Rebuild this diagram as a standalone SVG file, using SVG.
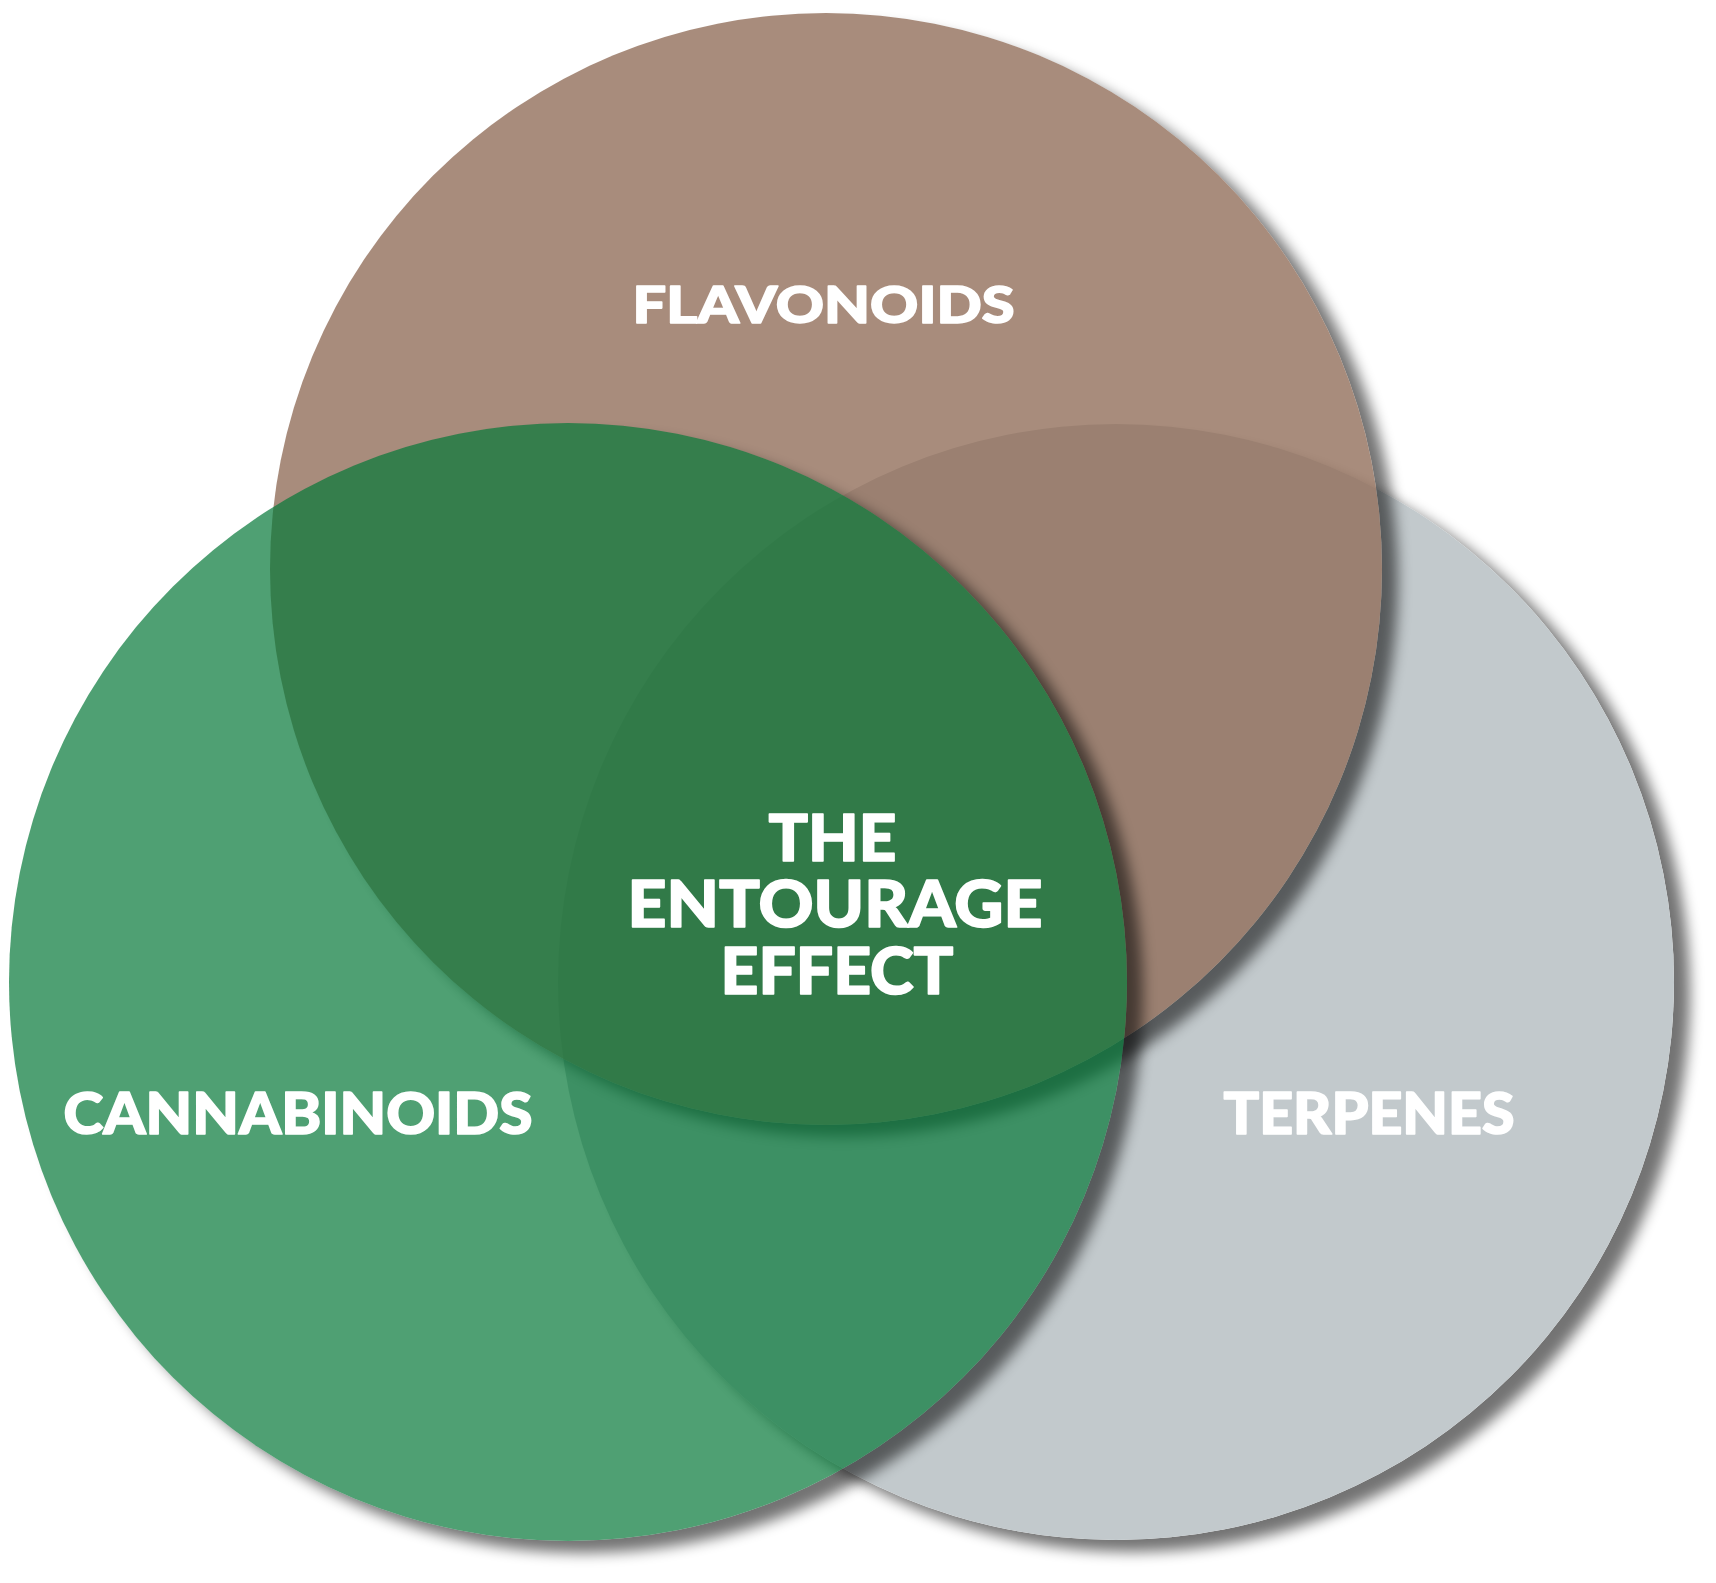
<svg xmlns="http://www.w3.org/2000/svg" width="1716" height="1583" viewBox="0 0 1716 1583">
<style>
.lbl{font-family:Lato,"Open Sans","Liberation Sans",sans-serif;font-weight:900;fill:#ffffff;stroke:#ffffff;stroke-width:1.6;stroke-linejoin:round;text-anchor:middle}
.shadow{fill:#000;opacity:0.55}
</style>
<defs>
<filter id="blur" x="-10%" y="-10%" width="120%" height="120%"><feGaussianBlur stdDeviation="7"/></filter>
<mask id="mGray" maskUnits="userSpaceOnUse" x="0" y="0" width="1716" height="1583"><rect width="1716" height="1583" fill="#fff"/><circle cx="1116" cy="982" r="558" fill="#000"/></mask>
<mask id="mBrown" maskUnits="userSpaceOnUse" x="0" y="0" width="1716" height="1583"><rect width="1716" height="1583" fill="#fff"/><circle cx="826" cy="569" r="556" fill="#000"/></mask>
<mask id="mGreen" maskUnits="userSpaceOnUse" x="0" y="0" width="1716" height="1583"><rect width="1716" height="1583" fill="#fff"/><circle cx="568" cy="982" r="559" fill="#000"/></mask>
</defs>
<rect width="1716" height="1583" fill="#ffffff"/>
<g id="terpenes">
<g mask="url(#mGray)"><circle class="shadow" cx="1132" cy="994" r="558" filter="url(#blur)"/></g>
<circle cx="1116" cy="982" r="558" fill="#c2c9cc"/>
<text class="lbl" x="1369" y="1134" font-size="57" textLength="291" lengthAdjust="spacingAndGlyphs">TERPENES</text>
</g>
<g id="flavonoids">
<g mask="url(#mBrown)"><circle class="shadow" cx="842" cy="581" r="556" filter="url(#blur)"/></g>
<circle cx="826" cy="569" r="556" fill="rgb(143,108,87)" fill-opacity="0.78"/>
<text class="lbl" x="823.5" y="323" font-size="52" textLength="382" lengthAdjust="spacingAndGlyphs">FLAVONOIDS</text>
</g>
<g id="cannabinoids">
<g mask="url(#mGreen)"><circle class="shadow" cx="584" cy="994" r="559" filter="url(#blur)"/></g>
<circle cx="568" cy="982" r="559" fill="rgb(4,120,55)" fill-opacity="0.7"/>
<text class="lbl" x="298" y="1134" font-size="57" textLength="469" lengthAdjust="spacingAndGlyphs">CANNABINOIDS</text>
</g>
<g id="entourage">
<text class="lbl" x="832.5" y="861" font-size="64" textLength="128" lengthAdjust="spacingAndGlyphs">THE</text>
<text class="lbl" x="835" y="927" font-size="64" textLength="415" lengthAdjust="spacingAndGlyphs">ENTOURAGE</text>
<text class="lbl" x="837" y="994" font-size="64" textLength="233" lengthAdjust="spacingAndGlyphs">EFFECT</text>
</g>
<g id="connectors"/>
</svg>
